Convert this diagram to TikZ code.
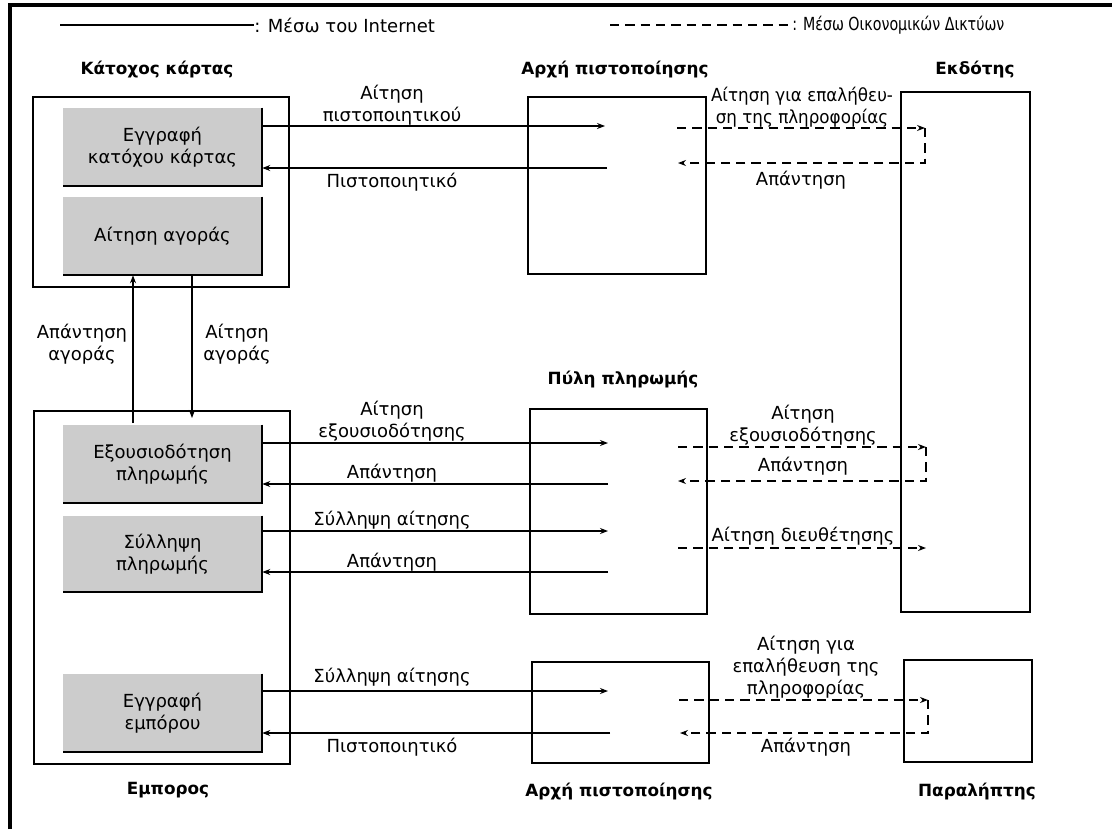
\documentclass[tikz,border=0pt]{standalone}
\usepackage{fontspec}
\setmainfont{DejaVu Sans}
\usetikzlibrary{arrows.meta,fit}
\definecolor{boxgray}{gray}{0.80}
\begin{document}
\begin{tikzpicture}[x=0.75pt,y=-0.75pt,
  every node/.style={font=\fontsize{13.5}{16.5}\selectfont, inner sep=0pt, align=center},
  ttl/.style={font=\fontsize{12.6}{15}\selectfont\bfseries},
  frm/.style={draw, line width=0.9pt, inner sep=0pt},
  gbox/.style={fill=boxgray, inner sep=0pt},
  shadow/.style={line width=1.8pt},
  conn/.style={line width=0.8pt, -{Stealth[length=6pt,width=4.5pt]}},
  fin/.style={conn, dash pattern=on 7pt off 4.5pt},
  finl/.style={line width=0.8pt, dash pattern=on 7pt off 4.5pt}
]
\useasboundingbox (0,0) rectangle (1112,829);
% page frame
\draw[line width=2.4pt] (10,829) -- (10,5) -- (1112,5);

% legend
\coordinate (l1a) at (60,25);
\node[anchor=west] (leg1) at (254,25) {: Μέσω του Internet};
\draw[line width=0.8pt] (l1a) -- (leg1.west);
\coordinate (l2a) at (610,25);
\node[anchor=west] (leg2) at (792,25) {\scalebox{0.79}[1]{: Μέσω Οικονομικών Δικτύων}};
\draw[finl] (l2a) -- (leg2.west);

% titles
\node[ttl] (t1) at (157,70) {Κάτοχος κάρτας};
\node[ttl] (t2) at (615,70) {Αρχή πιστοποίησης};
\node[ttl] (t3) at (975,70) {Εκδότης};
\node[ttl] (t4) at (623,380) {Πύλη πληρωμής};
\node[ttl] (t5) at (168,790) {Εμπορος};
\node[ttl] (t6) at (619,792) {Αρχή πιστοποίησης};
\node[ttl] (t7) at (977,792) {Παραλήπτης};

% outer boxes
\node[frm, fit={(33,97) (289,287)}] (chold) {};
\node[frm, fit={(34,411) (290,764)}] (merch) {};
\node[frm, fit={(528,97) (706,274)}] (ca1) {};
\node[frm, fit={(901,92) (1030,612)}] (iss) {};
\node[frm, fit={(530,409) (707,614)}] (gw) {};
\node[frm, fit={(532,662) (709,763)}] (ca2) {};
\node[frm, fit={(904,660) (1032,762)}] (rcv) {};

% gray boxes
\node[gbox, fit={(63,108) (262,186)}] (g1) {};
\node at (g1.center) {Εγγραφή\\κατόχου κάρτας};
\node[gbox, fit={(63,197) (262,275)}] (g2) {};
\node at (g2.center) {Αίτηση αγοράς};
\node[gbox, fit={(63,425) (262,503)}] (g3) {};
\node at (g3.center) {Εξουσιοδότηση\\πληρωμής};
\node[gbox, fit={(63,516) (262,592)}] (g4) {};
\node at (g4.center) {Σύλληψη\\πληρωμής};
\node[gbox, fit={(63,674) (262,752)}] (g5) {};
\node at (g5.center) {Εγγραφή\\εμπόρου};
\foreach \g in {g1,g2,g3,g4,g5}{
  \draw[shadow] (\g.north east) -- (\g.south east) -- (\g.south west);
}

% vertical arrows between cardholder and merchant
\coordinate (v1) at (133,423);
\draw[conn] (v1) -- (g2.south -| v1);
\coordinate (v2) at (192,418);
\draw[conn] (g2.south -| v2) -- (v2);
\node (lv1) at (82,344) {Απάντηση\\αγοράς};
\node (lv2) at (237,344) {Αίτηση\\αγοράς};

% internet arrows
\coordinate (a1) at (605,126);
\draw[conn] (g1.east |- a1) -- (a1);
\coordinate (a2) at (607,168);
\draw[conn] (a2) -- (g1.east |- a2);
\node (la1) at (392,105) {Αίτηση\\πιστοποιητικού};
\node (la2) at (392,182) {Πιστοποιητικό};

\coordinate (a3) at (608,443);
\draw[conn] (g3.east |- a3) -- (a3);
\coordinate (a4) at (608,484);
\draw[conn] (a4) -- (g3.east |- a4);
\node (la3) at (392,421) {Αίτηση\\εξουσιοδότησης};
\node (la4) at (392,473) {Απάντηση};

\coordinate (a5) at (608,531);
\draw[conn] (g4.east |- a5) -- (a5);
\coordinate (a6) at (608,572);
\draw[conn] (a6) -- (g4.east |- a6);
\node (la5) at (392,520) {Σύλληψη αίτησης};
\node (la6) at (392,562) {Απάντηση};

\coordinate (a7) at (608,691);
\draw[conn] (g5.east |- a7) -- (a7);
\coordinate (a8) at (610,733);
\draw[conn] (a8) -- (g5.east |- a8);
\node (la7) at (392,677) {Σύλληψη αίτησης};
\node (la8) at (392,747) {Πιστοποιητικό};

% financial network arrows
\coordinate (d1s) at (677,128);
\coordinate (d1e) at (925,128);
\coordinate (d2s) at (925,163);
\coordinate (d2e) at (678,163);
\draw[fin] (d1s) -- (d1e);
\draw[fin] (d1e) -- (d2s) -- (d2e);
\node (ld1) at (802,107) {\scalebox{0.93}[1]{Αίτηση για επαλήθευ-}\\\scalebox{0.93}[1]{ση της πληροφορίας}};
\node (ld2) at (801,180) {Απάντηση};

\coordinate (d3s) at (678,447);
\coordinate (d3e) at (926,447);
\coordinate (d4s) at (926,481);
\coordinate (d4e) at (678,481);
\draw[fin] (d3s) -- (d3e);
\draw[fin] (d3e) -- (d4s) -- (d4e);
\node (ld3) at (803,425) {Αίτηση\\εξουσιοδότησης};
\node (ld4) at (803,466) {Απάντηση};

\coordinate (d5s) at (678,548);
\coordinate (d5e) at (926,548);
\draw[fin] (d5s) -- (d5e);
\node (ld5) at (803,536) {Αίτηση διευθέτησης};

\coordinate (d6s) at (679,700);
\coordinate (d6e) at (928,700);
\coordinate (d7s) at (928,733);
\coordinate (d7e) at (680,733);
\draw[fin] (d6s) -- (d6e);
\draw[fin] (d6e) -- (d7s) -- (d7e);
\node (ld6) at (806,667) {Αίτηση για\\επαλήθευση της\\πληροφορίας};
\node (ld7) at (806,747) {Απάντηση};
\end{tikzpicture}
\end{document}
